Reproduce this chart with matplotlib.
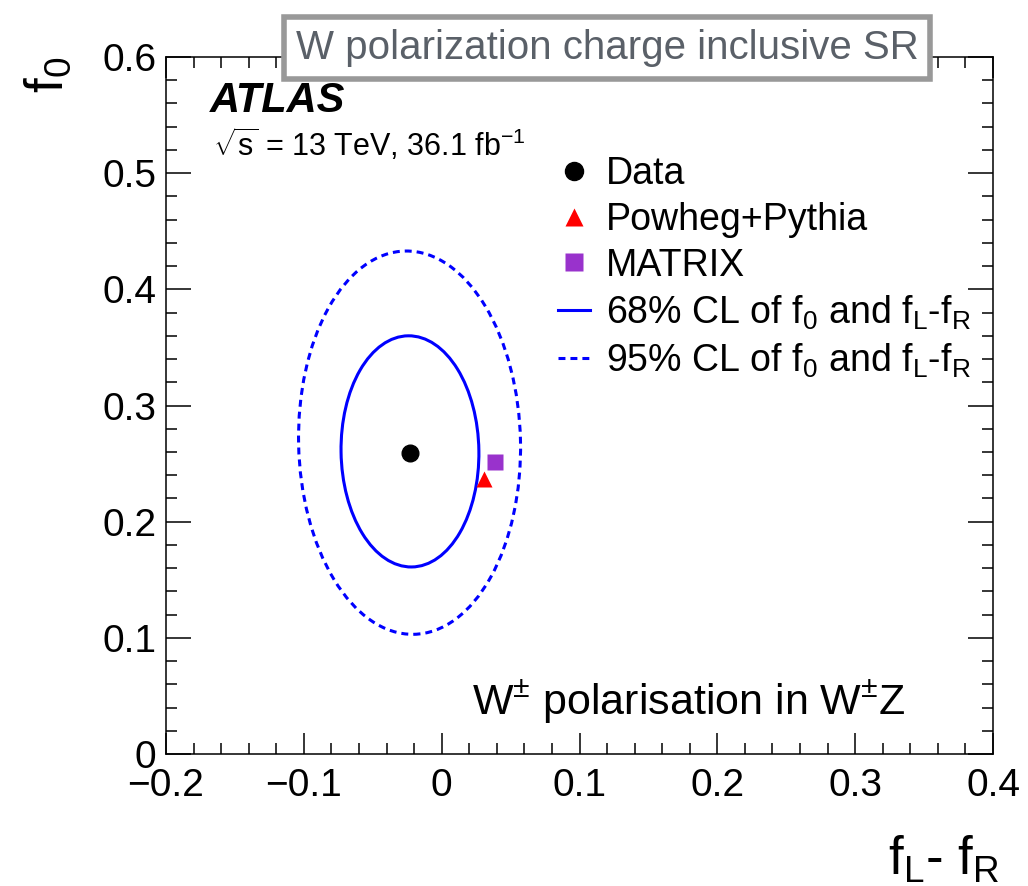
import matplotlib
matplotlib.use("Agg")
import matplotlib.pyplot as plt
from matplotlib.patches import Ellipse
from matplotlib.lines import Line2D
import numpy as np

plt.rcParams['font.family'] = ['Liberation Sans', 'DejaVu Sans']
plt.rcParams['mathtext.fontset'] = 'custom'
plt.rcParams['mathtext.rm'] = 'Liberation Sans'
plt.rcParams['mathtext.it'] = 'Liberation Sans:italic'
plt.rcParams['mathtext.bf'] = 'Liberation Sans:bold'
plt.rcParams['mathtext.default'] = 'regular'
plt.rcParams['lines.scale_dashes'] = False

# measured points (f_L - f_R, f_0)
data_pt = [-0.023, 0.259]
powheg_pt = [0.0305, 0.237]
matrix_pt = [0.039, 0.251]

# confidence contours: centre x, centre y, full width, full height, angle (deg)
cl68 = [-0.023, 0.2605, 0.100, 0.199, 0.7]
cl95 = [-0.0233, 0.268, 0.161, 0.330, 1.0]

x_ticks = [-0.2, -0.1, 0.0, 0.1, 0.2, 0.3, 0.4]
x_labels = ['\u22120.2', '\u22120.1', '0', '0.1', '0.2', '0.3', '0.4']
y_ticks = [0.0, 0.1, 0.2, 0.3, 0.4, 0.5, 0.6]
y_labels = ['0', '0.1', '0.2', '0.3', '0.4', '0.5', '0.6']

blue = '#0000ff'
fig = plt.figure(figsize=(10.28, 8.86), dpi=100)
ax = fig.add_axes([166/1028, 1-754/886, (993-166)/1028, (754-57)/886])

e68 = Ellipse((cl68[0], cl68[1]), cl68[2], cl68[3], angle=cl68[4],
              fill=False, ec=blue, lw=2.2)
e95 = Ellipse((cl95[0], cl95[1]), cl95[2], cl95[3], angle=cl95[4],
              fill=False, ec=blue, lw=2.2, ls=(0, (5, 3.6)))
ax.add_patch(e68)
ax.add_patch(e95)

ax.plot(*data_pt, 'o', color='black', ms=12, zorder=5)
ax.plot(*powheg_pt, '^', color='#ff0000', ms=12, mec='none', zorder=5)
ax.plot(*matrix_pt, 's', color='#9932cc', ms=12, mec='none', zorder=5)

ax.set_xlim(-0.2, 0.4)
ax.set_ylim(0, 0.6)
ax.set_xticks(x_ticks)
ax.set_xticklabels(x_labels)
ax.set_yticks(y_ticks)
ax.set_yticklabels(y_labels)
ax.set_xticks(np.arange(-0.2, 0.401, 0.02), minor=True)
ax.set_yticks(np.arange(0, 0.601, 0.02), minor=True)
ax.tick_params(which='both', direction='in', top=True, right=True, width=1.1,
               labelsize=28)
ax.tick_params(axis='x', which='major', length=15, pad=10)
ax.tick_params(axis='y', which='major', length=18, pad=7)
ax.tick_params(which='minor', length=8)
for s in ax.spines.values():
    s.set_linewidth(1.1)

ax.text(-0.142, 1.0, r'f$_0$', transform=ax.transAxes, fontsize=38,
        rotation=90, ha='center', va='top')
ax.text(1.008, -0.115, r'f$_L$- f$_R$', transform=ax.transAxes, fontsize=38,
        ha='right', va='top')

fig.text(210/1028, 1-112/886, 'ATLAS', fontsize=30, fontweight='bold',
         fontstyle='italic', va='baseline')
fig.text(213/1028, 1-156/886, r'$\sqrt{s}$ = 13 TeV, 36.1 fb$^{-1}$',
         fontsize=22, va='baseline')
fig.text(472/1028, 1-715/886, r'W$^{\pm}$ polarisation in W$^{\pm}$Z',
         fontsize=31, va='baseline')
fig.text(607/1028, 1-48/886, 'W polarization charge inclusive SR',
         fontsize=29, color='#5a6068', ha='center', va='center',
         bbox=dict(boxstyle='square,pad=0.3', fc='white', ec='#999999', lw=4))

handles = [
    Line2D([], [], ls='none', marker='o', color='black', ms=13),
    Line2D([], [], ls='none', marker='^', color='#ff0000', mec='none', ms=13),
    Line2D([], [], ls='none', marker='s', color='#9932cc', mec='none', ms=13),
    Line2D([], [], color=blue, lw=2.2),
    Line2D([], [], color=blue, lw=2.2, ls=(0, (5, 3.6))),
]
labels = ['Data', 'Powheg+Pythia', 'MATRIX',
          r'68% CL of f$_0$ and f$_L$-f$_R$',
          r'95% CL of f$_0$ and f$_L$-f$_R$']
ax.legend(handles, labels, loc='upper left', frameon=False, fontsize=27,
          bbox_to_anchor=(558/1028, 1-156/886), bbox_transform=fig.transFigure,
          borderpad=0, borderaxespad=0, handlelength=0.85, handletextpad=0.43,
          labelspacing=0.26)

fig.savefig('out.png', dpi=100)
